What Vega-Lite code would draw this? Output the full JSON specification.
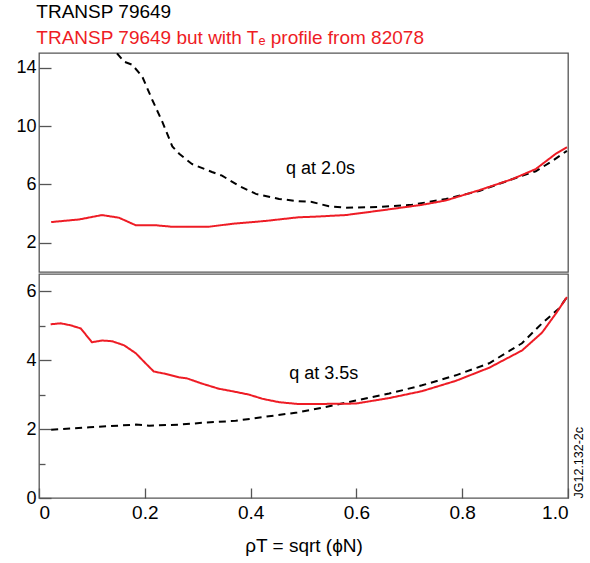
{
  "$schema": "https://vega.github.io/schema/vega-lite/v6.json",
  "background": "white",
  "padding": {"left": 15, "top": 3, "right": 2, "bottom": 5},
  "spacing": 0,
  "config": {
    "font": "Liberation Sans",
    "view": {"stroke": "#555", "strokeWidth": 1.3},
    "axis": {"domain": false, "grid": false, "labelFont": "Liberation Sans", "titleFont": "Liberation Sans", "tickColor": "#555", "tickWidth": 1.3, "labelColor": "black", "titleColor": "black", "titleFontWeight": "normal"}
  },
  "title": {
    "text": "TRANSP 79649",
    "subtitle": "TRANSP 79649 but with Tₑ profile from 82078",
    "anchor": "start",
    "dx": 21,
    "font": "Liberation Sans",
    "subtitleFont": "Liberation Sans",
    "fontSize": 19,
    "subtitleFontSize": 19,
    "fontWeight": "normal",
    "color": "black",
    "subtitleColor": "#ee1c25",
    "subtitlePadding": 7,
    "offset": 4
  },
  "datasets": {
    "top": [
      {"x": 0.13, "q": 16.5, "run": "79649"},
      {"x": 0.147, "q": 15.0, "run": "79649"},
      {"x": 0.161, "q": 14.4, "run": "79649"},
      {"x": 0.176, "q": 14.2, "run": "79649"},
      {"x": 0.195, "q": 13.4, "run": "79649"},
      {"x": 0.214, "q": 11.8, "run": "79649"},
      {"x": 0.233, "q": 10.3, "run": "79649"},
      {"x": 0.252, "q": 8.6, "run": "79649"},
      {"x": 0.265, "q": 8.1, "run": "79649"},
      {"x": 0.289, "q": 7.4, "run": "79649"},
      {"x": 0.327, "q": 6.85, "run": "79649"},
      {"x": 0.346, "q": 6.6, "run": "79649"},
      {"x": 0.378, "q": 5.9, "run": "79649"},
      {"x": 0.41, "q": 5.35, "run": "79649"},
      {"x": 0.454, "q": 5.0, "run": "79649"},
      {"x": 0.491, "q": 4.85, "run": "79649"},
      {"x": 0.516, "q": 4.8, "run": "79649"},
      {"x": 0.548, "q": 4.5, "run": "79649"},
      {"x": 0.58, "q": 4.4, "run": "79649"},
      {"x": 0.643, "q": 4.45, "run": "79649"},
      {"x": 0.705, "q": 4.6, "run": "79649"},
      {"x": 0.769, "q": 5.0, "run": "79649"},
      {"x": 0.832, "q": 5.55, "run": "79649"},
      {"x": 0.894, "q": 6.35, "run": "79649"},
      {"x": 0.939, "q": 6.9, "run": "79649"},
      {"x": 0.97, "q": 7.6, "run": "79649"},
      {"x": 0.998, "q": 8.3, "run": "79649"},
      {"x": 0.023, "q": 3.42, "run": "82078"},
      {"x": 0.076, "q": 3.6, "run": "82078"},
      {"x": 0.119, "q": 3.9, "run": "82078"},
      {"x": 0.151, "q": 3.72, "run": "82078"},
      {"x": 0.183, "q": 3.2, "run": "82078"},
      {"x": 0.221, "q": 3.2, "run": "82078"},
      {"x": 0.251, "q": 3.1, "run": "82078"},
      {"x": 0.321, "q": 3.1, "run": "82078"},
      {"x": 0.365, "q": 3.3, "run": "82078"},
      {"x": 0.429, "q": 3.5, "run": "82078"},
      {"x": 0.491, "q": 3.75, "run": "82078"},
      {"x": 0.516, "q": 3.78, "run": "82078"},
      {"x": 0.58, "q": 3.9, "run": "82078"},
      {"x": 0.643, "q": 4.2, "run": "82078"},
      {"x": 0.724, "q": 4.6, "run": "82078"},
      {"x": 0.769, "q": 4.9, "run": "82078"},
      {"x": 0.832, "q": 5.6, "run": "82078"},
      {"x": 0.894, "q": 6.35, "run": "82078"},
      {"x": 0.939, "q": 7.05, "run": "82078"},
      {"x": 0.977, "q": 8.1, "run": "82078"},
      {"x": 0.998, "q": 8.55, "run": "82078"}
    ],
    "bottom": [
      {"x": 0.023, "q": 1.98, "run": "79649"},
      {"x": 0.095, "q": 2.05, "run": "79649"},
      {"x": 0.183, "q": 2.13, "run": "79649"},
      {"x": 0.208, "q": 2.1, "run": "79649"},
      {"x": 0.265, "q": 2.13, "run": "79649"},
      {"x": 0.316, "q": 2.19, "run": "79649"},
      {"x": 0.372, "q": 2.24, "run": "79649"},
      {"x": 0.429, "q": 2.36, "run": "79649"},
      {"x": 0.488, "q": 2.48, "run": "79649"},
      {"x": 0.535, "q": 2.62, "run": "79649"},
      {"x": 0.599, "q": 2.83, "run": "79649"},
      {"x": 0.662, "q": 3.03, "run": "79649"},
      {"x": 0.724, "q": 3.27, "run": "79649"},
      {"x": 0.788, "q": 3.56, "run": "79649"},
      {"x": 0.851, "q": 3.91, "run": "79649"},
      {"x": 0.913, "q": 4.49, "run": "79649"},
      {"x": 0.951, "q": 5.07, "run": "79649"},
      {"x": 0.983, "q": 5.5, "run": "79649"},
      {"x": 0.998, "q": 5.83, "run": "79649"},
      {"x": 0.022, "q": 5.04, "run": "82078"},
      {"x": 0.041, "q": 5.07, "run": "82078"},
      {"x": 0.06, "q": 5.01, "run": "82078"},
      {"x": 0.079, "q": 4.92, "run": "82078"},
      {"x": 0.1, "q": 4.52, "run": "82078"},
      {"x": 0.119, "q": 4.57, "run": "82078"},
      {"x": 0.138, "q": 4.55, "run": "82078"},
      {"x": 0.161, "q": 4.43, "run": "82078"},
      {"x": 0.183, "q": 4.2, "run": "82078"},
      {"x": 0.202, "q": 3.9, "run": "82078"},
      {"x": 0.217, "q": 3.67, "run": "82078"},
      {"x": 0.24, "q": 3.6, "run": "82078"},
      {"x": 0.265, "q": 3.5, "run": "82078"},
      {"x": 0.28, "q": 3.47, "run": "82078"},
      {"x": 0.308, "q": 3.32, "run": "82078"},
      {"x": 0.34, "q": 3.17, "run": "82078"},
      {"x": 0.365, "q": 3.1, "run": "82078"},
      {"x": 0.397, "q": 3.0, "run": "82078"},
      {"x": 0.422, "q": 2.88, "run": "82078"},
      {"x": 0.454, "q": 2.78, "run": "82078"},
      {"x": 0.488, "q": 2.73, "run": "82078"},
      {"x": 0.535, "q": 2.73, "run": "82078"},
      {"x": 0.599, "q": 2.74, "run": "82078"},
      {"x": 0.662, "q": 2.9, "run": "82078"},
      {"x": 0.724, "q": 3.1, "run": "82078"},
      {"x": 0.788, "q": 3.4, "run": "82078"},
      {"x": 0.851, "q": 3.78, "run": "82078"},
      {"x": 0.913, "q": 4.28, "run": "82078"},
      {"x": 0.951, "q": 4.8, "run": "82078"},
      {"x": 0.977, "q": 5.35, "run": "82078"},
      {"x": 0.998, "q": 5.83, "run": "82078"}
    ]
  },
  "vconcat": [
    {
      "width": 529,
      "height": 219,
      "layer": [
        {
          "data": {"name": "top"},
          "mark": {"type": "line", "clip": true, "strokeWidth": 2},
          "encoding": {
            "x": {"field": "x", "type": "quantitative", "scale": {"domain": [0, 1], "nice": false}, "axis": null},
            "y": {"field": "q", "type": "quantitative", "scale": {"domain": [0, 15], "nice": false},
              "axis": {"values": [2, 4, 6, 8, 10, 12, 14], "labelExpr": "datum.value % 4 == 2 ? datum.label : ''", "tickSize": {"condition": {"test": "datum.value % 4 == 0", "value": -6}, "value": -12}, "labelFontSize": 18, "labelPadding": 15, "title": null}},
            "color": {"field": "run", "type": "nominal", "scale": {"domain": ["79649", "82078"], "range": ["black", "#ee1c25"]}, "legend": null},
            "strokeDash": {"field": "run", "type": "nominal", "scale": {"domain": ["79649", "82078"], "range": [[7, 5], [1, 0]]}, "legend": null}
          }
        },
        {
          "data": {"values": [{"x": 0.467, "q": 7.05, "label": "q at 2.0s"}]},
          "mark": {"type": "text", "align": "left", "baseline": "middle", "fontSize": 18, "font": "Liberation Sans", "color": "black"},
          "encoding": {
            "x": {"field": "x", "type": "quantitative"},
            "y": {"field": "q", "type": "quantitative"},
            "text": {"field": "label"}
          }
        }
      ]
    },
    {
      "width": 529,
      "height": 224,
      "resolve": {"axis": {"y": "independent"}},
      "layer": [
        {
          "data": {"name": "bottom"},
          "mark": {"type": "line", "clip": true, "strokeWidth": 2},
          "encoding": {
            "x": {"field": "x", "type": "quantitative", "scale": {"domain": [0, 1], "nice": false},
              "axis": {"values": [0, 0.2, 0.4, 0.6, 0.8, 1.0], "labelExpr": "datum.value == 0 ? '0' : format(datum.value, '.1f')", "tickSize": -10, "labelFontSize": 19, "labelPadding": 15, "title": "ρT = sqrt (ϕN)", "titleFontSize": 19, "titlePadding": 14}},
            "y": {"field": "q", "type": "quantitative", "scale": {"domain": [0, 6.5], "nice": false},
              "axis": {"values": [0, 1, 2, 3, 4, 5, 6], "labelExpr": "datum.value % 2 == 0 ? datum.label : ''", "tickSize": {"condition": {"test": "datum.value % 2 == 1", "value": -6}, "value": -12}, "labelFontSize": 18, "labelPadding": 15, "title": null}},
            "color": {"field": "run", "type": "nominal", "scale": {"domain": ["79649", "82078"], "range": ["black", "#ee1c25"]}, "legend": null},
            "strokeDash": {"field": "run", "type": "nominal", "scale": {"domain": ["79649", "82078"], "range": [[7, 5], [1, 0]]}, "legend": null}
          }
        },
        {
          "data": {"values": [{"x": 0.473, "q": 3.6, "label": "q at 3.5s"}]},
          "mark": {"type": "text", "align": "left", "baseline": "middle", "fontSize": 18, "font": "Liberation Sans", "color": "black"},
          "encoding": {
            "x": {"field": "x", "type": "quantitative"},
            "y": {"field": "q", "type": "quantitative",
              "axis": {"orient": "right", "title": "JG12.132-2c", "labels": false, "ticks": false, "domain": false, "titleAngle": 270, "titleAnchor": "start", "titleFontSize": 12.5, "titlePadding": 4, "titleBaseline": "top"}},
            "text": {"field": "label"}
          }
        }
      ]
    }
  ]
}
